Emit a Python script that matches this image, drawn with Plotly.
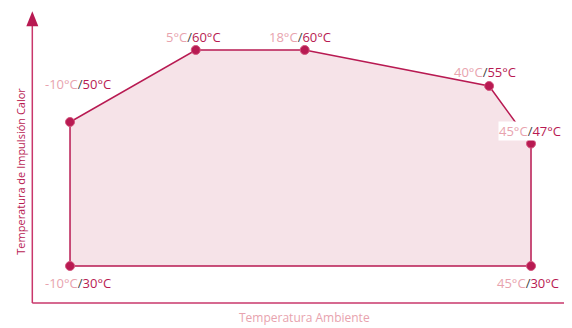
import plotly.graph_objects as go

# operating envelope: ambient temperature vs. supply (impulsion) temperature
AMBIENT = [-10, -10, 5, 18, 40, 45, 45]
IMPULSION = [30, 50, 60, 60, 55, 47, 30]
LABEL_SHIFT = [(8, -17), (8, 38), (-2, 13), (-5, 13), (-4, 14), (-1, 13), (-3, -17)]

DARK = "#b81a52"
LIGHT = "#e8a3ae"
FILL = "rgba(229,176,188,0.35)"
AXIS = "#c9376b"

fig = go.Figure()

fig.add_trace(
    go.Scatter(
        x=AMBIENT + [AMBIENT[0]],
        y=IMPULSION + [IMPULSION[0]],
        mode="lines",
        fill="toself",
        fillcolor=FILL,
        line=dict(color=DARK, width=1.5),
        hoverinfo="skip",
        showlegend=False,
    )
)
fig.add_trace(
    go.Scatter(
        x=AMBIENT,
        y=IMPULSION,
        mode="markers",
        marker=dict(size=9, color=DARK, line=dict(color="#d4587f", width=1)),
        hovertemplate="%{x}°C / %{y}°C<extra></extra>",
        showlegend=False,
    )
)

for i in range(len(AMBIENT)):
    dx, dy = LABEL_SHIFT[i]
    txt = (
        f"<span style='color:{LIGHT}'>{AMBIENT[i]}°C</span>"
        f"<span style='color:#444'>/</span>"
        f"<span style='color:{DARK}'>{IMPULSION[i]}°C</span>"
    )
    fig.add_annotation(
        x=AMBIENT[i],
        y=IMPULSION[i],
        text=txt,
        showarrow=False,
        xshift=dx,
        yshift=dy,
        font=dict(size=13),
        bgcolor="white" if AMBIENT[i] == 45 and IMPULSION[i] == 47 else None,
        borderpad=0,
    )

# axes with arrow on the vertical one
x0, y0 = -14.5, 24.86
fig.add_shape(type="line", x0=x0, y0=y0, x1=50, y1=y0, line=dict(color=AXIS, width=1.5))
fig.add_shape(type="line", x0=x0, y0=y0, x1=x0, y1=63.5, line=dict(color=AXIS, width=1.5))
fig.add_shape(
    type="path",
    xsizemode="pixel",
    ysizemode="pixel",
    xanchor=x0,
    yanchor=63.3,
    path="M-6,0 L6,0 L0,15 Z",
    fillcolor=DARK,
    line=dict(width=0),
)

fig.add_annotation(
    x=0.525, y=0.0, xref="paper", yref="paper", yanchor="bottom",
    text="Temperatura Ambiente", showarrow=False,
    font=dict(size=12, color=LIGHT), yshift=0,
)
fig.add_annotation(
    x=0.0, y=0.49, xref="paper", yref="paper", xanchor="left",
    text="Temperatura de Impulsión Calor", showarrow=False, textangle=-90,
    font=dict(size=11, color=DARK), xshift=3,
)

# page body has an 8px margin, so the figure is a little smaller than the window
fig.update_xaxes(range=[-17.40, 49.89], visible=False)
fig.update_yaxes(range=[21.39, 65.83], visible=False)
fig.update_layout(
    width=564,
    height=320,
    margin=dict(l=0, r=0, t=0, b=0),
    plot_bgcolor="white",
    paper_bgcolor="white",
    font=dict(family="Open Sans"),
)

fig.write_html("out.html")
